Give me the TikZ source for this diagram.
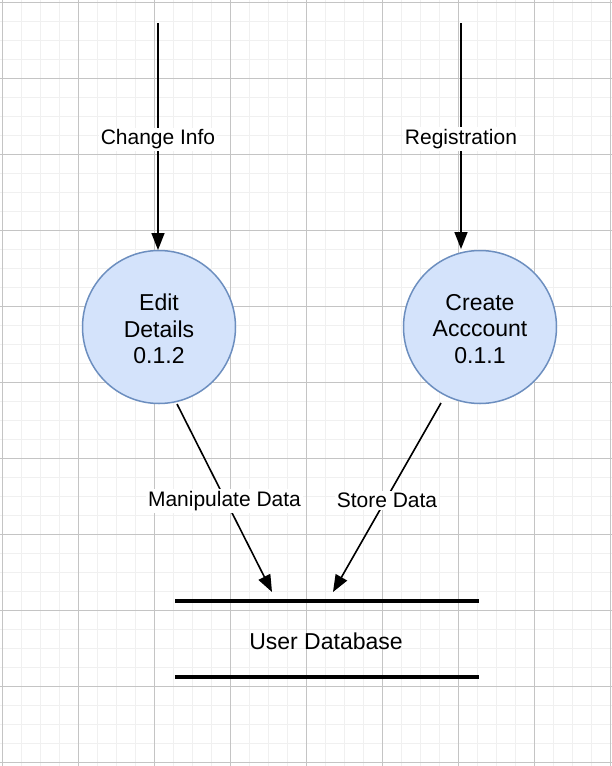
\documentclass[tikz,border=0pt]{standalone}
\usepackage{fontspec}
\setmainfont{Liberation Sans}
\usetikzlibrary{arrows.meta}
\definecolor{procfill}{HTML}{D4E3FB}
\definecolor{procline}{HTML}{6C8EBF}
\definecolor{gridminor}{HTML}{F0F0F0}
\definecolor{gridmajor}{HTML}{C4C4C4}
\tikzset{
  txt/.style={font=\fontsize{23}{26.5}\selectfont, align=center},
  flowlabel/.style={font=\fontsize{21}{24}\selectfont, fill=white, inner sep=2pt, yshift=-3pt},
  process/.style={circle, draw=procline, line width=1.5pt, fill=procfill, minimum size=153pt, inner sep=0pt, txt},
  flow/.style={line width=1.6pt, -{Triangle[length=17pt,width=13pt]}},
  storeline/.style={line width=3.2pt},
}
\begin{document}
\begin{tikzpicture}[x=1pt,y=-1pt]
\useasboundingbox (0,0) rectangle (612,766);
\fill[white] (0,0) rectangle (612,766);
% grid
\foreach \i in {0,...,32} {
  \draw[gridminor, line width=1pt] ({2+19*\i},0) -- ({2+19*\i},766);
}
\foreach \i in {0,...,40} {
  \draw[gridminor, line width=1pt] (0,{2+19*\i}) -- (612,{2+19*\i});
}
\foreach \i in {0,...,8} {
  \draw[gridmajor, line width=1pt] ({2+76*\i},0) -- ({2+76*\i},766);
}
\foreach \i in {0,...,10} {
  \draw[gridmajor, line width=1pt] (0,{2+76*\i}) -- (612,{2+76*\i});
}
% processes
\node[process] (edit) at (159,327) {};
\node[process] (create) at (480,327) {};
\node[txt] (editT) at (159,329) {Edit\\Details\\0.1.2};
\node[txt] (createT) at (480,329) {Create\\Acccount\\0.1.1};
% coordinates
\coordinate (inL) at (158,23);
\coordinate (inLtip) at (158,250);
\coordinate (inR) at (461,23);
\coordinate (inRtip) at (461,249);
\coordinate (outL) at (177,404);
\coordinate (tipL) at (272,592);
\coordinate (outR) at (441,403);
\coordinate (tipR) at (333,592);
\coordinate (dbTL) at (175,601);
\coordinate (dbTR) at (479,601);
\coordinate (dbBL) at (175,677);
\coordinate (dbBR) at (479,677);
% data store
\draw[storeline] (dbTL) -- (dbTR);
\draw[storeline] (dbBL) -- (dbBR);
\node[txt] (db) at (326,641) {User Database};
% flows
\draw[flow] (inL) -- (inLtip) node[flowlabel, pos=0.5] (l1) {Change Info};
\draw[flow] (inR) -- (inRtip) node[flowlabel, pos=0.5] (l2) {Registration};
\draw[flow] (outL) -- (tipL) node[flowlabel, pos=0.5] (l3) {Manipulate Data};
\draw[flow] (outR) -- (tipR) node[flowlabel, pos=0.5] (l4) {Store Data};
\end{tikzpicture}
\end{document}
